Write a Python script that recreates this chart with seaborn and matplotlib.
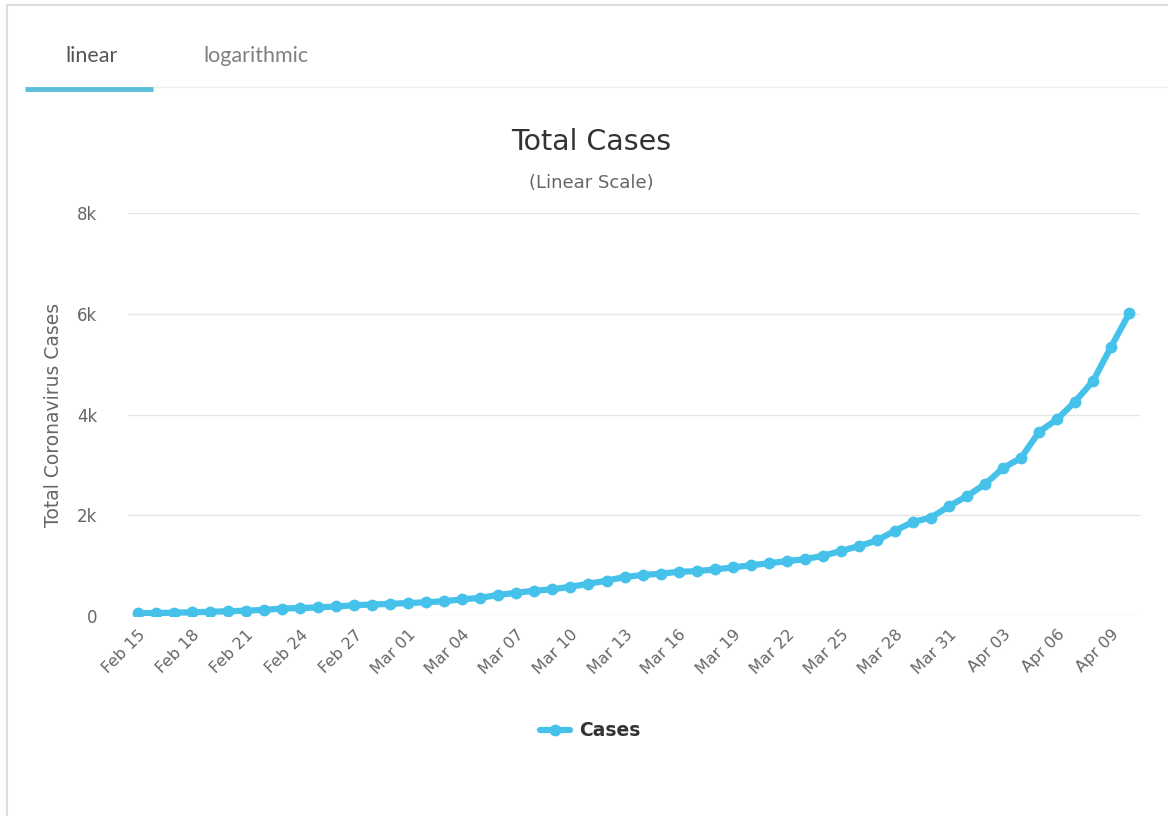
import numpy as np
import pandas as pd
import seaborn as sns
import matplotlib.pyplot as plt
import matplotlib.dates as mdates
from matplotlib.lines import Line2D

# Daily total cases, Feb 15 - Apr 10
dates = pd.date_range("2020-02-15", "2020-04-10", freq="D")
cases = [
    53, 59, 66, 74, 84, 94, 105, 122, 147, 159, 170, 189, 214, 228, 241,
    256, 274, 293, 331, 360, 420, 461, 502, 530, 581, 639, 701, 773, 814,
    839, 878, 889, 924, 963, 1007, 1046, 1089, 1128, 1193, 1291, 1387, 1499,
    1693, 1866, 1953, 2178, 2381, 2617, 2935, 3139, 3654, 3906, 4257, 4667,
    5347, 6005,
]
y_ticks = [0, 2000, 4000, 6000, 8000]
y_tick_labels = ["0", "2k", "4k", "6k", "8k"]

line_color = "#45c1ea"
text_gray = "#666666"

sns.set_theme(style="white")
plt.rcParams["font.family"] = ["DejaVu Sans"]

df = pd.DataFrame({"date": dates, "cases": cases})

W, H = 1168, 816
fig = plt.figure(figsize=(W / 100, H / 100), dpi=100)

# frame of the widget (top and left edges visible)
fig.add_artist(Line2D([7 / W, 7 / W], [0, 1 - 5 / H], color="#dddddd", lw=1.5))
fig.add_artist(Line2D([7 / W, 1], [1 - 5 / H, 1 - 5 / H], color="#dddddd", lw=1.5))

# tabs
fig.text(92 / W, 1 - 56 / H, "linear", ha="center", va="center",
         fontsize=15.5, color="#555555", family=["Lato", "DejaVu Sans"])
fig.text(256 / W, 1 - 56 / H, "logarithmic", ha="center", va="center",
         fontsize=15.5, color="#808080", family=["Lato", "DejaVu Sans"])
fig.add_artist(Line2D([153 / W, 1], [1 - 87 / H, 1 - 87 / H], color="#eeeeee", lw=1))
fig.add_artist(Line2D([25 / W, 153 / W], [1 - 89 / H, 1 - 89 / H],
                      color="#5bbfdc", lw=3.5, solid_capstyle="butt"))

# titles
fig.text(591 / W, 1 - 142 / H, "Total Cases", ha="center", va="center",
         fontsize=20.5, color="#333333", fontweight="medium")
fig.text(591 / W, 1 - 183 / H, "(Linear Scale)", ha="center", va="center",
         fontsize=13, color="#666666")

ax = fig.add_axes([128 / W, 1 - 616 / H, 1012 / W, 403 / H])
sns.lineplot(data=df, x="date", y="cases", ax=ax, color=line_color,
             linewidth=4.5, marker="o", markersize=8.5, markeredgewidth=0,
             label="Cases", legend=False)

ax.set_ylim(0, 8000)
ax.set_yticks(y_ticks)
ax.set_yticklabels(y_tick_labels)
ax.set_xlim(dates[0] - pd.Timedelta(days=0.55), dates[-1] + pd.Timedelta(days=0.6))
ax.set_xticks(dates[::3])
ax.xaxis.set_major_formatter(mdates.DateFormatter("%b %d"))
for lbl in ax.get_xticklabels():
    lbl.set_rotation(45)
    lbl.set_ha("right")
    lbl.set_rotation_mode("anchor")

ax.tick_params(axis="both", length=0, labelcolor=text_gray)
ax.tick_params(axis="y", pad=22, labelsize=12)
ax.tick_params(axis="x", pad=8, labelsize=11.5)
ax.grid(axis="y", color="#e6e6e6", lw=1)
ax.grid(axis="x", visible=False)
for s in ax.spines.values():
    s.set_visible(False)
ax.set_xlabel("")
ax.set_ylabel("Total Coronavirus Cases", fontsize=13.5, color=text_gray, labelpad=10)

# legend below the chart
handle = Line2D([], [], color=line_color, lw=4.5, marker="o", markersize=8.5,
                markeredgewidth=0)
leg = fig.legend([handle], ["Cases"], loc="center", bbox_to_anchor=(590 / W, 1 - 731 / H),
                 frameon=False, handlelength=1.6, handletextpad=0.5,
                 prop={"weight": "bold", "size": 13.5})
for t in leg.get_texts():
    t.set_color("#333333")

fig.savefig("out.png", dpi=100, facecolor="white")
